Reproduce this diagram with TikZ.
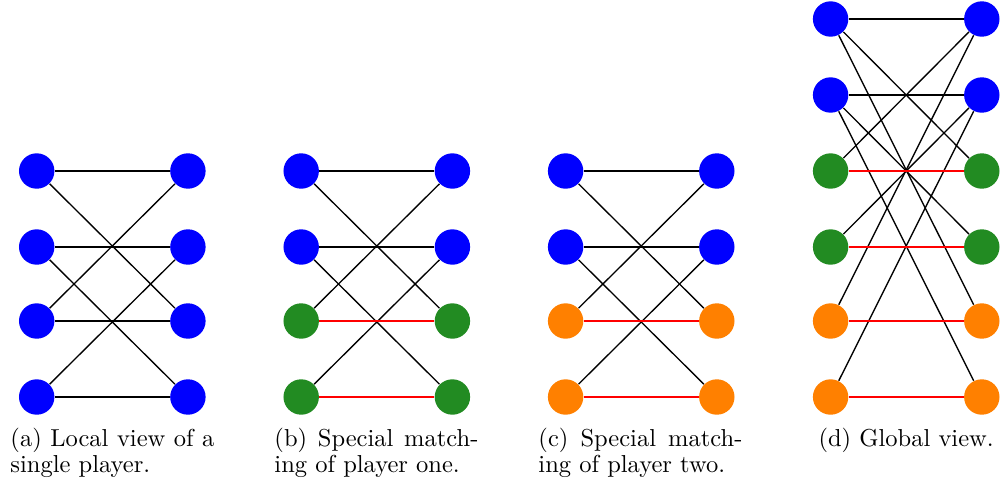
\documentclass[tikz,border=0pt]{standalone}
\definecolor{pblue}{RGB}{0,0,255}
\definecolor{pgreen}{RGB}{34,139,34}
\definecolor{porange}{RGB}{255,128,0}
\tikzset{
  pl/.style={circle,inner sep=0pt,minimum size=14.45pt,draw=none},
  bl/.style={pl,fill=pblue},
  gr/.style={pl,fill=pgreen},
  og/.style={pl,fill=porange},
  ed/.style={draw=black,line width=0.55pt},
  sp/.style={draw=red,line width=0.65pt},
  captext/.style={anchor=base west,inner sep=0pt,font=\fontsize{10pt}{12pt}\selectfont}
}
\begin{document}
\begin{tikzpicture}[x=0.408pt,y=-0.408pt]
\useasboundingbox (0,0) rectangle (1003,486);
% (a)
\foreach \i/\y in {1/171,2/247,3/321,4/397}{
  \node[bl] (aL\i) at (36.7,\y) {};
  \node[bl] (aR\i) at (187.9,\y) {};
}
% (b)
\foreach \i/\y/\s in {1/171/bl,2/247/bl,3/321/gr,4/397/gr}{
  \node[\s] (bL\i) at (301.2,\y) {};
  \node[\s] (bR\i) at (452.4,\y) {};
}
% (c)
\foreach \i/\y/\s in {1/171/bl,2/247/bl,3/321/og,4/397/og}{
  \node[\s] (cL\i) at (565.6,\y) {};
  \node[\s] (cR\i) at (716.8,\y) {};
}
% (d)
\foreach \i/\y/\s in {1/19/bl,2/95/bl,3/171/gr,4/247/gr,5/321/og,6/397/og}{
  \node[\s] (dL\i) at (830.6,\y) {};
  \node[\s] (dR\i) at (981.8,\y) {};
}
% edges (a)
\draw[ed] (aL1) -- (aR1);
\draw[ed] (aL1) -- (aR3);
\draw[ed] (aL2) -- (aR2);
\draw[ed] (aL2) -- (aR4);
\draw[ed] (aL3) -- (aR1);
\draw[ed] (aL3) -- (aR3);
\draw[ed] (aL4) -- (aR2);
\draw[ed] (aL4) -- (aR4);
% edges (b)
\draw[ed] (bL1) -- (bR1);
\draw[ed] (bL1) -- (bR3);
\draw[ed] (bL2) -- (bR2);
\draw[ed] (bL2) -- (bR4);
\draw[ed] (bL3) -- (bR1);
\draw[ed] (bL4) -- (bR2);
\draw[sp] (bL3) -- (bR3);
\draw[sp] (bL4) -- (bR4);
% edges (c)
\draw[ed] (cL1) -- (cR1);
\draw[ed] (cL1) -- (cR3);
\draw[ed] (cL2) -- (cR2);
\draw[ed] (cL2) -- (cR4);
\draw[ed] (cL3) -- (cR1);
\draw[ed] (cL4) -- (cR2);
\draw[sp] (cL3) -- (cR3);
\draw[sp] (cL4) -- (cR4);
% edges (d)
\draw[ed] (dL1) -- (dR1);
\draw[ed] (dL1) -- (dR3);
\draw[ed] (dL1) -- (dR5);
\draw[ed] (dL2) -- (dR2);
\draw[ed] (dL2) -- (dR4);
\draw[ed] (dL2) -- (dR6);
\draw[ed] (dL3) -- (dR1);
\draw[ed] (dL4) -- (dR2);
\draw[ed] (dL5) -- (dR1);
\draw[ed] (dL6) -- (dR2);
\draw[sp] (dL3) -- (dR3);
\draw[sp] (dL4) -- (dR4);
\draw[sp] (dL5) -- (dR5);
\draw[sp] (dL6) -- (dR6);
% captions
\node[captext] (ca1) at (10,446) {\makebox[83.2pt][s]{(a) Local view of a}};
\node[captext] (ca2) at (10,472.5) {single player.};
\node[captext] (cb1) at (274,446) {\makebox[83.2pt][s]{(b) Special match-}};
\node[captext] (cb2) at (274,472.5) {ing of player one.};
\node[captext] (cc1) at (538,446) {\makebox[83.2pt][s]{(c) Special match-}};
\node[captext] (cc2) at (538,472.5) {ing of player two.};
\node[captext] (cd1) at (818,446) {(d) Global view.};
\end{tikzpicture}
\end{document}
